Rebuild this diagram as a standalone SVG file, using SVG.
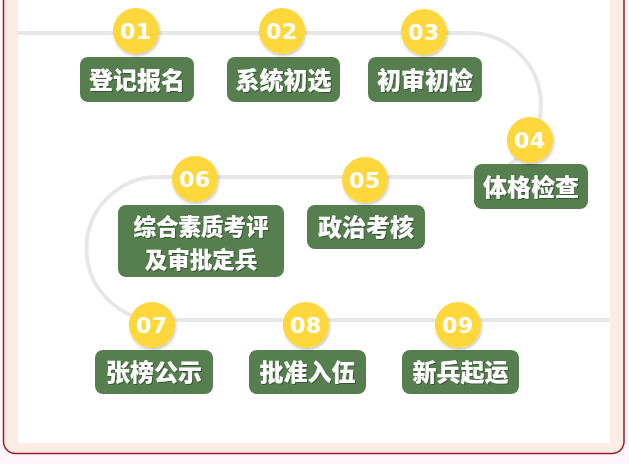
<svg xmlns="http://www.w3.org/2000/svg" width="629" height="464" viewBox="0 0 629 464">
<defs>
<filter id="cs" x="-30%" y="-30%" width="160%" height="160%">
<feDropShadow dx="1" dy="2" stdDeviation="1.5" flood-color="#000" flood-opacity="0.22"/>
</filter>
<filter id="ts" x="-10%" y="-20%" width="120%" height="140%">
<feDropShadow dx="1" dy="1" stdDeviation="0.6" flood-color="#1e3a1a" flood-opacity="0.6"/>
</filter>
</defs>
<style>
.box{fill:#567e4f;}
.dot{fill:#fdd73a;filter:url(#cs);}
.lbl{font-family:"Noto Sans CJK SC","Noto Sans CJK JP",sans-serif;font-weight:900;font-size:24px;fill:#fff;text-anchor:middle;filter:url(#ts);}
.lbl2{font-size:22.5px;}
.num{font-family:"DejaVu Sans","Liberation Sans",sans-serif;font-weight:bold;font-size:22px;fill:#fff;text-anchor:middle;letter-spacing:0.5px;}
.track{fill:none;stroke:#e7e7e7;stroke-width:4;}
</style>
<rect x="0" y="0" width="629" height="464" fill="#fcf5fa"/>
<rect x="3.5" y="-20" width="620.5" height="473.5" rx="12" fill="#fdebe6" stroke="#9b1b26" stroke-width="1.5"/>
<rect x="18" y="-10" width="592" height="453" fill="#ffffff"/>
<g id="connectors">
<path class="track" d="M18,33 H469 A72,72 0 0 1 469,177 H158 A71.5,71.5 0 0 0 158,320 H610"/>
</g>
<g id="n01">
<rect class="box" x="80" y="57" width="114" height="45" rx="8"/>
<text class="lbl" x="137" y="89">登记报名</text>
<circle class="dot" cx="136" cy="31" r="23"/>
<text class="num" x="136" y="39">01</text>
</g>
<g id="n02">
<rect class="box" x="227" y="57" width="113" height="45" rx="8"/>
<text class="lbl" x="283.5" y="89">系统初选</text>
<circle class="dot" cx="282" cy="31" r="23"/>
<text class="num" x="282" y="39">02</text>
</g>
<g id="n03">
<rect class="box" x="368" y="57" width="114" height="45" rx="8"/>
<text class="lbl" x="425" y="89">初审初检</text>
<circle class="dot" cx="424" cy="32" r="23"/>
<text class="num" x="424" y="40">03</text>
</g>
<g id="n04">
<rect class="box" x="474" y="164" width="114" height="45" rx="8"/>
<text class="lbl" x="531" y="196">体格检查</text>
<circle class="dot" cx="530" cy="140" r="23"/>
<text class="num" x="530" y="148">04</text>
</g>
<g id="n05">
<rect class="box" x="307" y="205" width="118" height="44" rx="8"/>
<text class="lbl" x="366" y="236">政治考核</text>
<circle class="dot" cx="365" cy="180" r="23"/>
<text class="num" x="365" y="188">05</text>
</g>
<g id="n06">
<rect class="box" x="118" y="205" width="166" height="72" rx="8"/>
<text class="lbl lbl2" x="201" y="235">综合素质考评<tspan x="201" dy="32.8">及审批定兵</tspan></text>
<circle class="dot" cx="195" cy="179" r="23"/>
<text class="num" x="195" y="187">06</text>
</g>
<g id="n07">
<rect class="box" x="95" y="350" width="118" height="44" rx="8"/>
<text class="lbl" x="154" y="381">张榜公示</text>
<circle class="dot" cx="152" cy="325" r="23"/>
<text class="num" x="152" y="333">07</text>
</g>
<g id="n08">
<rect class="box" x="249" y="350" width="117" height="44" rx="8"/>
<text class="lbl" x="307.5" y="381">批准入伍</text>
<circle class="dot" cx="306" cy="325" r="23"/>
<text class="num" x="306" y="333">08</text>
</g>
<g id="n09">
<rect class="box" x="402" y="350" width="117" height="44" rx="8"/>
<text class="lbl" x="460.5" y="381">新兵起运</text>
<circle class="dot" cx="458" cy="325" r="23"/>
<text class="num" x="458" y="333">09</text>
</g>
</svg>
